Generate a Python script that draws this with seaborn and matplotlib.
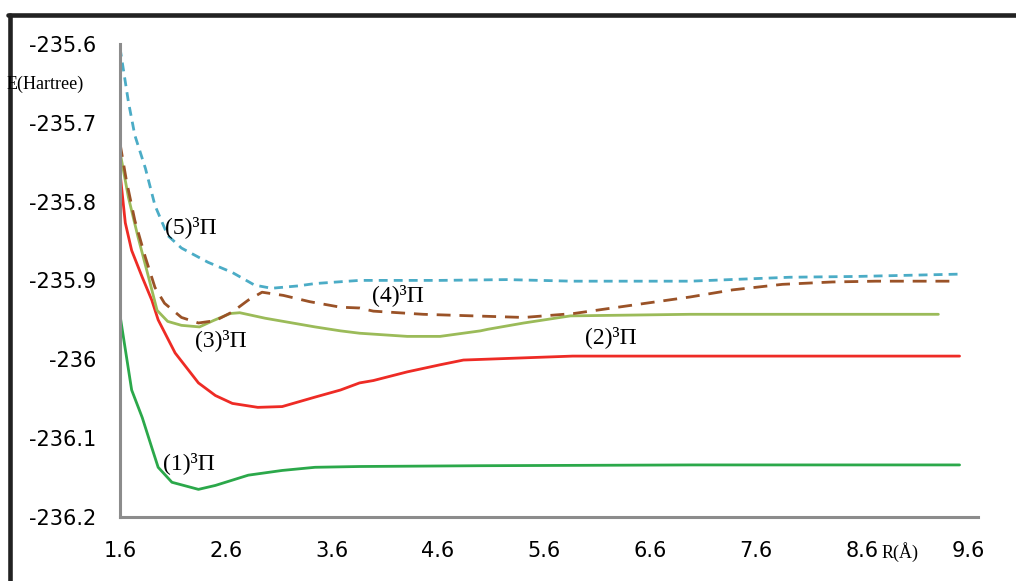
import numpy as np
import pandas as pd
import matplotlib
matplotlib.use("Agg")
import matplotlib.pyplot as plt
import seaborn as sns
from matplotlib.lines import Line2D

# %% Data
r1 = [1.6, 1.71, 1.81, 1.90, 1.96, 2.09, 2.34, 2.50, 2.81, 3.13, 3.44, 3.86, 5.0,
      7.0, 9.52]
e1 = [-235.944, -236.039, -236.074, -236.112, -236.137, -236.156, -236.165, -236.160,
      -236.147, -236.141, -236.137, -236.136, -236.135, -236.134, -236.134]

r2 = [1.6, 1.65, 1.71, 1.81, 1.90, 1.96, 2.12, 2.34, 2.50, 2.66, 2.90, 3.13, 3.44,
      3.68, 3.86, 3.99, 4.31, 4.62, 4.84, 5.25, 5.87, 7.0, 9.52]
e2 = [-235.763, -235.827, -235.862, -235.896, -235.925, -235.950, -235.992, -236.030,
      -236.046, -236.056, -236.061, -236.060, -236.048, -236.039, -236.030, -236.027,
      -236.016, -236.007, -236.001, -235.999, -235.996, -235.996, -235.996]

r3 = [1.6, 1.68, 1.77, 1.86, 1.95, 2.05, 2.18, 2.35, 2.48, 2.64, 2.73, 2.97, 3.44,
      3.68, 3.86, 4.31, 4.62, 5.00, 5.07, 5.41, 5.85, 6.98, 9.32]
e3 = [-235.737, -235.795, -235.845, -235.891, -235.938, -235.952, -235.957, -235.959,
      -235.951, -235.942, -235.941, -235.948, -235.959, -235.964, -235.967, -235.971,
      -235.971, -235.964, -235.962, -235.954, -235.945, -235.943, -235.943]

r4 = [1.6, 1.66, 1.74, 1.84, 1.93, 2.02, 2.18, 2.34, 2.50, 2.66, 2.81, 2.94, 3.14,
      3.39, 3.68, 3.86, 3.99, 4.46, 4.93, 5.41, 5.88, 6.35, 6.98, 7.38, 7.85, 8.32,
      8.73, 9.48]
e4 = [-235.726, -235.773, -235.824, -235.871, -235.909, -235.929, -235.947, -235.954,
      -235.951, -235.940, -235.925, -235.915, -235.919, -235.927, -235.934, -235.935,
      -235.939, -235.943, -235.945, -235.947, -235.942, -235.933, -235.921, -235.912,
      -235.905, -235.902, -235.901, -235.901]

r5 = [1.6, 1.68, 1.74, 1.84, 1.93, 2.05, 2.18, 2.43, 2.66, 2.87, 3.03, 3.28, 3.44,
      3.86, 4.62, 5.25, 5.87, 6.98, 7.92, 8.55, 9.54]
e5 = [-235.605, -235.674, -235.716, -235.758, -235.805, -235.843, -235.859, -235.877,
      -235.890, -235.906, -235.910, -235.907, -235.904, -235.900, -235.900, -235.899,
      -235.901, -235.901, -235.896, -235.895, -235.892]

states = ["(1)", "(2)", "(3)", "(4)", "(5)"]
colors = ["#2ba84a", "#ee2b25", "#9bbb59", "#9a5227", "#4bacc6"]
label_pos = [(2.25, -236.131), (6.23, -235.972), (2.55, -235.976),
             (4.22, -235.919), (2.27, -235.832)]

frames = []
for name, r, e in zip(states, [r1, r2, r3, r4, r5], [e1, e2, e3, e4, e5]):
    frames.append(pd.DataFrame({"R": r, "E": e, "state": name}))
df = pd.concat(frames, ignore_index=True)

# %% Plot
sns.set_style("white")
plt.rcParams["font.family"] = ["DejaVu Sans"]

fig = plt.figure(figsize=(10.16, 5.81), dpi=100)
ax = fig.add_axes([0.1181, 0.1102, 0.8445, 0.8144])

styles = {"(1)": "-", "(2)": "-", "(3)": "-", "(4)": (0, (5, 3.2)), "(5)": (0, (3.2, 2.2))}
for name, col in zip(states, colors):
    sub = df[df["state"] == name]
    sns.lineplot(data=sub, x="R", y="E", ax=ax, color=col, sort=False,
                 linewidth=2.0, linestyle=styles[name], estimator=None)

for name, (x, y) in zip(states, label_pos):
    ax.text(x, y, name + "³Π", fontsize=17, ha="center", va="center",
            family="Liberation Serif", color="black")

ax.set_xlim(1.6, 9.694)
ax.set_ylim(-236.2, -235.6)
ax.set_xticks(np.arange(1.6, 9.7, 1.0))
ax.set_xticklabels(["1.6", "2.6", "3.6", "4.6", "5.6", "6.6", "7.6", "8.6", "9.6"])
ax.set_yticks([-236.2, -236.1, -236.0, -235.9, -235.8, -235.7, -235.6])
ax.set_yticklabels(["-236.2", "-236.1", "-236", "-235.9", "-235.8", "-235.7", "-235.6"])
ax.set_xlabel("")
ax.set_ylabel("")
ax.tick_params(axis="y", length=5, width=1.8, color="#8c8c8c", pad=12, labelsize=15,
               labelcolor="black")
ax.tick_params(axis="x", length=0, pad=17, labelsize=15, labelcolor="black")
for s in ["top", "right"]:
    ax.spines[s].set_visible(False)
for s in ["left", "bottom"]:
    ax.spines[s].set_color("#8c8c8c")
    ax.spines[s].set_linewidth(2.2)

fig.text(0.0443, 0.8554, "E(Hartree)", fontsize=13, ha="center", va="center",
         family="Liberation Serif", color="black")
fig.text(0.886, 0.050, "R(Å)", fontsize=13, ha="center", va="center",
         family="Liberation Serif", color="black")

# outer frame (top and left edges only visible)
fig.add_artist(Line2D([0.008, 1.0], [0.974, 0.974], transform=fig.transFigure,
                      color="#222222", linewidth=3.3))
fig.add_artist(Line2D([0.0102, 0.0102], [0.0, 0.974], transform=fig.transFigure,
                      color="#222222", linewidth=3.3))

fig.savefig("out.png", dpi=100)
